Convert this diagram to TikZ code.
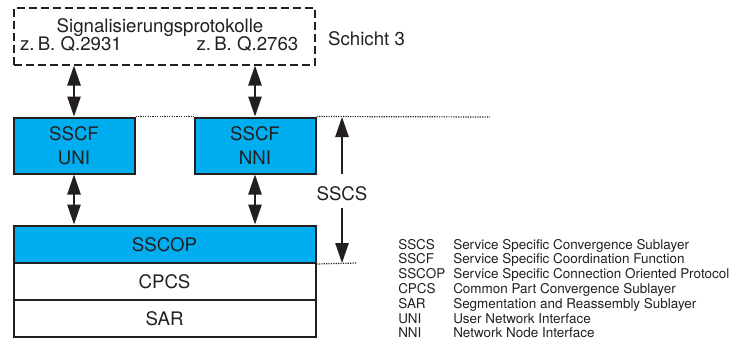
\documentclass[tikz,border=0pt]{standalone}
\usepackage{fontspec}
\setmainfont{TeX Gyre Heros}
\definecolor{layerblue}{RGB}{0, 174, 239}
\definecolor{inkblack}{RGB}{35, 31, 32}
\usetikzlibrary{arrows.meta, positioning, calc}

\tikzset{
  layerbox/.style={draw=inkblack, line width=1.5pt, fill=layerblue, text=inkblack,
    font=\fontsize{14}{18}\selectfont, align=center, inner sep=0pt},
  plainbox/.style={layerbox, fill=white},
  sigbox/.style={draw=inkblack, line width=1.5pt, dash pattern=on 6pt off 3pt, inner sep=0pt},
  bigtext/.style={text=inkblack, font=\fontsize{14}{18}\selectfont, inner sep=0pt},
  legtext/.style={text=inkblack, font=\fontsize{10.1}{11.1}\selectfont, inner sep=0pt, anchor=base west},
  dblarrow/.style={{Triangle[length=15pt, width=10pt]}-{Triangle[length=15pt, width=10pt]}, line width=1.1pt, draw=inkblack},
  onearrow/.style={-{Triangle[length=15pt, width=10pt]}, line width=1.1pt, draw=inkblack},
  guide/.style={draw=inkblack, line width=0.9pt, dash pattern=on 0.9pt off 0.9pt}
}

\begin{document}
\begin{tikzpicture}[x=0.75pt, y=-0.75pt]
  \useasboundingbox (0, 0) rectangle (737, 339);

  % Schicht 3
  \node[sigbox, minimum width=225.75pt, minimum height=42.75pt] (sig) at (164, 36) {};
  \node[bigtext, anchor=base] (sigtitle) at (160, 32) {Signalisierungsprotokolle};
  \node[bigtext, anchor=base] (sigleft) at (71, 50) {z.\,B. Q.2931};
  \node[bigtext, anchor=base] (sigright) at (247.5, 50) {z.\,B. Q.2763};
  \node[bigtext, anchor=base] (schicht) at (366.5, 45) {Schicht 3};

  % SSCF
  \node[layerbox, minimum width=90.75pt, minimum height=42pt] (uni) at (74, 145.5) {SSCF\\UNI};
  \node[layerbox, minimum width=90.75pt, minimum height=42pt] (nni) at (255, 145.5) {SSCF\\NNI};

  % Stack
  \node[layerbox, minimum width=226.5pt, minimum height=28.1pt] (sscop) at (164.5, 244.25) {SSCOP};
  \node[plainbox, minimum width=226.5pt, minimum height=27.75pt] (cpcs) at (164.5, 281.5) {CPCS};
  \node[plainbox, minimum width=226.5pt, minimum height=27.4pt] (sar) at (164.5, 318.25) {SAR};

  \draw[dblarrow] (uni.north |- sig.south) -- (uni.north);
  \draw[dblarrow] (nni.north |- sig.south) -- (nni.north);
  \draw[dblarrow] (uni.south) -- (uni.south |- sscop.north);
  \draw[dblarrow] (nni.south) -- (nni.south |- sscop.north);

  % SSCS range
  \coordinate (sscstop) at (342, 117);
  \coordinate (sscsbot) at (342, 263);
  \coordinate (guideend) at (490, 117);
  \coordinate (guidebot) at (357, 263);
  \node[bigtext, anchor=base, inner xsep=2pt, inner ysep=0pt] (sscs) at (342, 200) {SSCS};
  \draw[onearrow] ($(sscs.north)+(0,-12)$) -- (sscstop);
  \draw[onearrow] ($(sscs.south)+(0,7)$) -- (sscsbot);
  \draw[guide] (uni.north east) -- (nni.north west);
  \draw[guide] (nni.north east) -- (guideend);
  \draw[guide] (sscop.south east) -- (guidebot);

  % Legend
  \foreach \ab/\txt [count=\i from 0] in {SSCS/Service Specific Convergence Sublayer,
      SSCF/Service Specific Coordination Function,
      SSCOP/Service Specific Connection Oriented Protocol,
      CPCS/Common Part Convergence Sublayer,
      SAR/Segmentation and Reassembly Sublayer,
      UNI/User Network Interface,
      NNI/Network Node Interface} {
    \node[legtext] (abbr-\i) at (398, 249+14.8*\i) {\ab};
    \node[legtext] (desc-\i) at (453, 249+14.8*\i) {\txt};
  }
\end{tikzpicture}
\end{document}
